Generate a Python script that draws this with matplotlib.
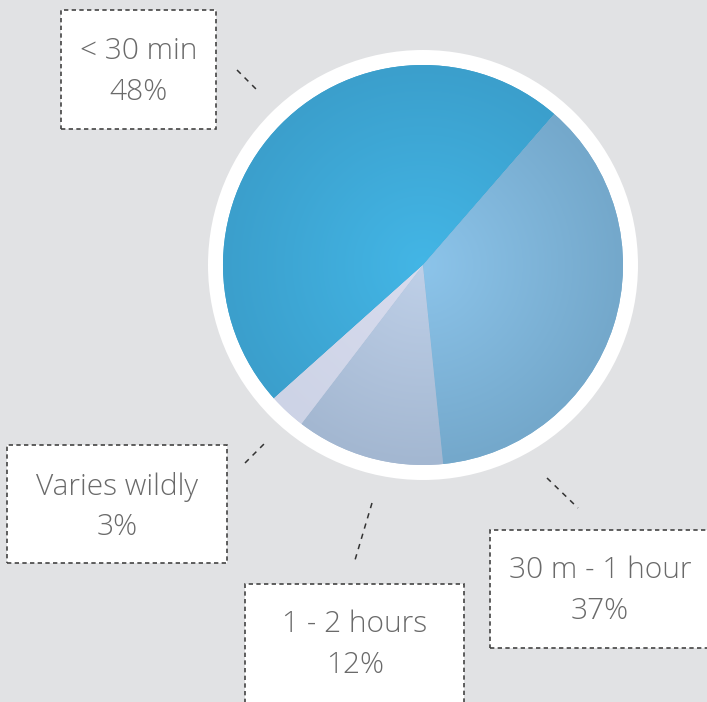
import numpy as np
import matplotlib.pyplot as plt
from matplotlib.patches import Rectangle, Circle
from matplotlib import font_manager

W, H = 707, 702

labels = ['< 30 min', 'Varies wildly', '1 - 2 hours', '30 m - 1 hour']
shares = [48, 3, 12, 37]

# inner / outer colour of each slice's radial shading
inner_colors = ['#43b6e6', '#d8dcee', '#bfd0e8', '#8cc4ea']
outer_colors = ['#3b9fcc', '#cdd3e6', '#a3b7d1', '#74a8cb']

# label boxes (left, top, width, height) in pixels from the top-left
boxes = [(61, 10, 155, 119), (7, 445, 220, 118), (245, 584, 219, 122), (490, 530, 225, 118)]
text_centers = [(139, 72), (117, 507), (355, 645), (600, 591)]
leaders = [((237, 70), (259, 92)), ((245, 463), (265, 443)),
           ((372, 503), (355, 560)), ((547, 478), (578, 508))]

cx, cy, r = 423, 265, 200
bg = '#e1e2e4'

family = 'Open Sans'
try:
    font_manager.findfont(font_manager.FontProperties(family=family, weight='light'),
                          fallback_to_default=False)
except Exception:
    family = 'DejaVu Sans'

fig = plt.figure(figsize=(W / 100, H / 100), dpi=100, facecolor=bg)
ax = fig.add_axes([0, 0, 1, 1])

# white ring behind the pie
ax.add_patch(Circle((cx, H - cy), r + 15, facecolor='white', edgecolor='none', zorder=1))

wedges, _ = ax.pie(shares, startangle=49, counterclock=True, radius=r,
                   center=(cx, H - cy), colors=outer_colors,
                   wedgeprops=dict(linewidth=0, zorder=2), frame=True)
ax.set_xlim(0, W)
ax.set_ylim(0, H)
ax.set_aspect('equal')
ax.axis('off')

# radial shading clipped to every wedge
n = 400
xs = np.linspace(cx - r, cx + r, n)
ys = np.linspace(H - cy - r, H - cy + r, n)
gx, gy = np.meshgrid(xs, ys)
dist = np.clip(np.hypot(gx - cx, gy - (H - cy)) / r, 0, 1)
for w, c0, c1 in zip(wedges, inner_colors, outer_colors):
    a = np.array(plt.matplotlib.colors.to_rgb(c0))
    b = np.array(plt.matplotlib.colors.to_rgb(c1))
    img = a + (b - a) * dist[..., None]
    im = ax.imshow(img, extent=(cx - r, cx + r, H - cy - r, H - cy + r),
                   origin='lower', zorder=3, interpolation='bilinear')
    im.set_clip_path(w)

for (bx, by, bw, bh), (tx, ty), lab, s in zip(boxes, text_centers, labels, shares):
    ax.add_patch(Rectangle((bx, H - by - bh), bw, bh, facecolor='white',
                           edgecolor='#444444', linewidth=1.2,
                           linestyle=(0, (2.6, 2.0)), zorder=4))
    ax.text(tx, H - ty, f'{lab}\n{s}%', ha='center', va='center',
            fontsize=21.5, color='#6a6a6a', family=family, fontweight='light',
            linespacing=1.5, zorder=5)

for (x0, y0), (x1, y1) in leaders:
    ax.plot([x0, x1], [H - y0, H - y1], color='#333333', linewidth=1.1,
            linestyle=(0, (3.5, 3.5)), zorder=4)

fig.savefig('out.png', dpi=100, facecolor=bg)
